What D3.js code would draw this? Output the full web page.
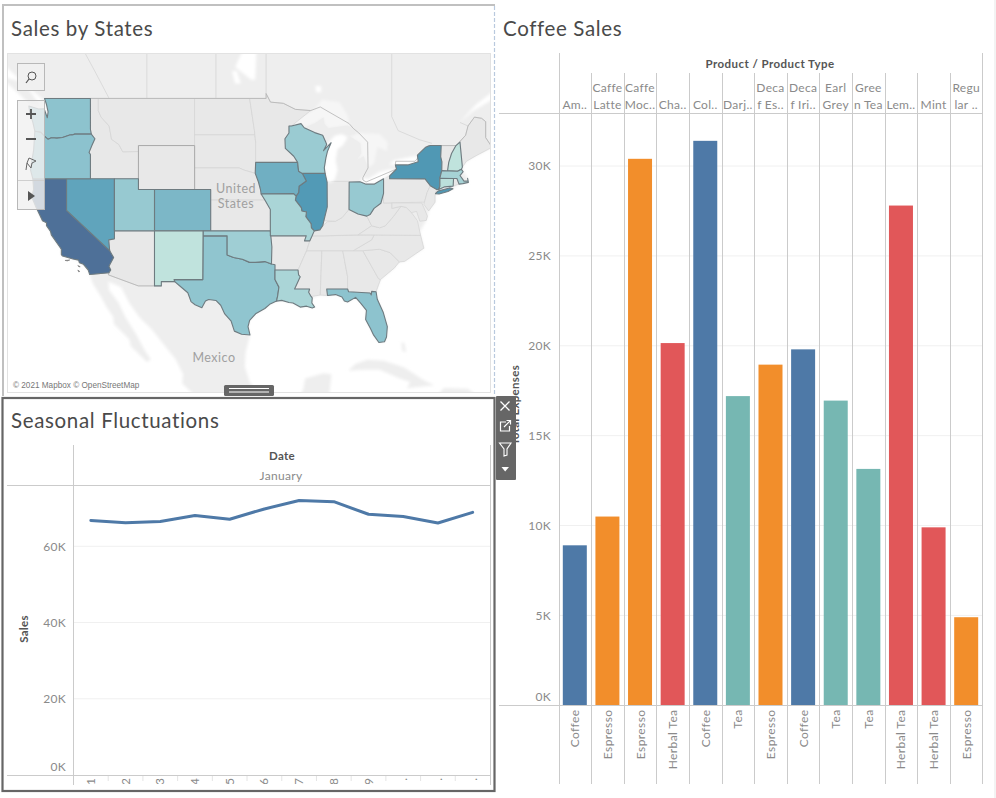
<!DOCTYPE html>
<html><head><meta charset="utf-8">
<script src="https://cdn.jsdelivr.net/npm/d3@7"></script>
<style>html,body{margin:0;padding:0;background:#fff}svg{display:block}text{font-family:Lato,"Open Sans",sans-serif}</style>
</head><body><svg id="c" width="996" height="798"></svg>
<script>
// ---- Coffee Sales ----
const products=["Amaretto","Caffe Latte","Caffe Mocha","Chamomile","Colombian","Darjeeling","Decaf Espresso","Decaf Irish Cream","Earl Grey","Green Tea","Lemon","Mint","Regular Espresso"];
const productLabels=[["Am.."],["Caffe","Latte"],["Caffe","Moc.."],["Cha.."],["Col.."],["Darj.."],["Deca","f Es.."],["Deca","f Iri.."],["Earl","Grey"],["Gree","n Tea"],["Lem.."],["Mint"],["Regu","lar .."]];
const productTypes=["Coffee","Espresso","Espresso","Herbal Tea","Coffee","Tea","Espresso","Coffee","Tea","Tea","Herbal Tea","Herbal Tea","Espresso"];
const totalExpenses=[8900,10500,30400,20150,31400,17200,18950,19800,16950,13150,27800,9900,4900];
const expenseTicks=[0,5000,10000,15000,20000,25000,30000];
const typeNames=["Coffee","Espresso","Herbal Tea","Tea"];
const typeColors=["#4e79a7","#f28e2b","#e15759","#76b7b2"];
// ---- Seasonal Fluctuations ----
const days=["1","2","3","4","5","6","7","8","9",".",".","."];
const monthlySales=[66800,66200,66500,68100,67100,69800,72000,71700,68400,67800,66100,68900];
const salesTicks=[0,20000,40000,60000];
// ---- Sales by States (value read from the shading) ----
const stateNames=["CA","NY","IL","NV","IA","CO","WA","OR","UT","TX","FL","OH","WI","OK","MO","LA","NM","NH","MA","CT"];
const stateSales=[70000,50500,49500,45000,40000,36000,30500,31000,27000,29500,30500,27000,26000,24000,20000,20000,11500,11500,21500,13500];
const colorStops=[10000,30000,50000,70000];
const colorRange=["#c4e6de","#8fc4cf","#5099b5","#4e7098"];
// rings in [longitude, latitude]
const stateRings={
WA:[[-124.7,48.38],[-123.5,48.13],[-122.8,48.15],[-122.4,47.4],[-122.3,47.9],[-122.5,48.5],[-122.75,49],[-117.03,49],[-117.03,46.42],[-116.92,46],[-118.98,46],[-119.3,45.93],[-119.6,45.92],[-120.5,45.7],[-121.2,45.65],[-121.9,45.68],[-122.3,45.55],[-122.8,45.85],[-123.2,46.15],[-123.95,46.25],[-124.1,46.7],[-124.2,47],[-124.6,47.9]],
OR:[[-123.95,46.25],[-123.2,46.15],[-122.8,45.85],[-122.3,45.55],[-121.9,45.68],[-121.2,45.65],[-120.5,45.7],[-119.6,45.92],[-119.3,45.93],[-118.98,46],[-116.92,46],[-116.47,45.6],[-116.85,45],[-117.2,44.4],[-117.03,44.2],[-117.03,42],[-124.2,42],[-124.5,42.85],[-124.1,44.6]],
CA:[[-124.2,42],[-120,42],[-120,39],[-114.63,35],[-114.14,34.3],[-114.72,33.4],[-114.5,33],[-114.72,32.72],[-117.12,32.53],[-117.3,33],[-117.9,33.6],[-118.4,33.75],[-118.5,34.03],[-119.2,34.15],[-120.5,34.45],[-120.65,34.6],[-120.65,35.15],[-121.9,36.6],[-122,36.95],[-122.5,37.5],[-122.5,37.8],[-123,38],[-123.8,39.3],[-124.35,40.3],[-124.1,41]],
NV:[[-120,42],[-114.04,42],[-114.04,36.2],[-114.75,36.1],[-114.63,35],[-120,39]],
UT:[[-114.04,42],[-111.05,42],[-111.05,41],[-109.05,41],[-109.05,37],[-114.04,37]],
CO:[[-109.05,41],[-102.05,41],[-102.05,37],[-109.05,37]],
NM:[[-109.05,37],[-103,37],[-103.04,32],[-106.62,32],[-106.53,31.78],[-108.2,31.78],[-108.2,31.33],[-109.05,31.33]],
TX:[[-106.62,32],[-103.04,32],[-103,36.5],[-100,36.5],[-100,34.56],[-99.2,34.3],[-98.1,34.13],[-97.2,33.8],[-96.5,33.8],[-95.3,33.88],[-94.48,33.64],[-94.04,33.55],[-94.04,32],[-93.55,31.2],[-93.7,30.3],[-93.85,29.7],[-94.7,29.35],[-95.3,28.9],[-96.4,28.35],[-97.2,27.6],[-97.4,26.9],[-97.15,25.96],[-98.2,26.05],[-99.1,26.4],[-99.5,27.5],[-100.3,28.3],[-100.8,29.25],[-101.4,29.77],[-102.3,29.88],[-102.7,29.7],[-103.15,28.98],[-104,29.3],[-104.5,29.65],[-104.9,30.6],[-106,31.4],[-106.53,31.78]],
OK:[[-103,37],[-94.62,37],[-94.43,35.4],[-94.48,33.64],[-95.3,33.88],[-96.5,33.8],[-97.2,33.8],[-98.1,34.13],[-99.2,34.3],[-100,34.56],[-100,36.5],[-103,36.5]],
LA:[[-94.04,33],[-91.17,33],[-91.1,32.5],[-90.9,32.3],[-91.6,31],[-89.73,31],[-89.85,30.65],[-89.55,30.2],[-89.4,30.05],[-89.45,29.5],[-89.1,29.05],[-89.4,28.95],[-90.1,29.15],[-90.9,29.05],[-91.8,29.5],[-92.3,29.55],[-93.2,29.78],[-93.85,29.7],[-93.7,30.3],[-93.55,31.2],[-94.04,32]],
MO:[[-95.77,40.58],[-91.73,40.61],[-91.42,40.38],[-91.5,40],[-90.75,39.25],[-90.7,38.95],[-90.12,38.85],[-90.2,38.4],[-89.55,37.7],[-89.5,37.3],[-89.15,37],[-89.42,36.5],[-89.7,36],[-90.37,36],[-90.15,36.5],[-94.62,36.5],[-94.62,39.1],[-95.3,40]],
IA:[[-96.45,43.5],[-91.22,43.5],[-91.1,42.7],[-90.65,42.5],[-90.15,41.8],[-91.05,41.3],[-91.1,40.7],[-91.42,40.38],[-91.73,40.61],[-95.77,40.58],[-95.85,41],[-96.1,41.7],[-96.5,42.5]],
IL:[[-90.65,42.5],[-87.8,42.5],[-87.55,41.7],[-87.53,39.35],[-87.95,38],[-88.1,37.5],[-88.45,37.1],[-89.15,37],[-89.5,37.3],[-89.55,37.7],[-90.2,38.4],[-90.12,38.85],[-90.7,38.95],[-90.75,39.25],[-91.5,40],[-91.42,40.38],[-91.1,40.7],[-91.05,41.3],[-90.15,41.8]],
WI:[[-92.3,46.7],[-92,46.7],[-90.8,46.9],[-90.4,46.55],[-89.1,46.13],[-88.1,45.9],[-87.75,45.35],[-87.6,45.1],[-88,44.55],[-87.05,45.25],[-87.5,44.5],[-87.7,43.9],[-87.9,43],[-87.8,42.5],[-90.65,42.5],[-91.1,42.7],[-91.22,43.5],[-91.7,44.05],[-92.75,44.75],[-92.8,45.6],[-92.3,46.1]],
OH:[[-84.8,41.7],[-83.45,41.73],[-82.7,41.5],[-81.7,41.5],[-80.52,42],[-80.52,40.64],[-80.85,39.7],[-81.7,39.2],[-82.2,38.6],[-82.6,38.45],[-83.7,38.65],[-84.82,39.1]],
NY:[[-79.76,42.27],[-78.9,42.9],[-79.05,43.27],[-77.5,43.27],[-76.2,43.55],[-76.3,44.15],[-75.3,44.85],[-74.7,45],[-73.34,45],[-73.4,44],[-73.25,43.55],[-73.27,42.75],[-73.5,42.05],[-73.5,41.3],[-73.65,41],[-73.9,41],[-74.7,41.36],[-75.35,41.99],[-79.76,42]],
NH:[[-72.55,42.73],[-71.3,42.7],[-70.82,42.87],[-70.7,43.07],[-71,45.3],[-71.5,45],[-72.05,44.3],[-72.4,43.5]],
MA:[[-73.5,42.05],[-73.27,42.75],[-71.3,42.7],[-70.82,42.87],[-70.6,42.65],[-71,42.3],[-70.65,41.95],[-70.5,41.78],[-70,41.8],[-70.05,42.05],[-69.95,41.67],[-70.65,41.55],[-71.12,41.5],[-71.38,42.02],[-71.8,42.02]],
CT:[[-73.5,42.05],[-71.8,42.02],[-71.85,41.32],[-72.9,41.25],[-73.65,41],[-73.5,41.3]],
FL:[[-87.6,31],[-85,31],[-84.87,30.7],[-82.2,30.57],[-82.05,30.36],[-82,30.75],[-81.45,30.71],[-81.3,29.9],[-80.55,28.45],[-80.05,26.9],[-80.15,25.75],[-80.4,25.2],[-81.1,25.12],[-81.75,25.95],[-82.15,26.7],[-82.75,27.7],[-82.65,28.7],[-83.4,29.5],[-84,30.1],[-85,29.6],[-85.4,29.7],[-85.7,30.15],[-86.5,30.4],[-87.5,30.3]]
};
const stateExtraRings={NY:[[[-74.05,40.6],[-73.75,40.85],[-72.3,41.15],[-71.87,41.07],[-72.5,40.82],[-73.6,40.58]]]};
const otherStates=[
[[-117.03,49],[-116.05,49],[-116.05,48],[-115.7,47.45],[-114.7,46.7],[-114.4,45.55],[-113.5,45.1],[-113,44.45],[-111.05,44.47],[-111.05,42],[-117.03,42],[-117.03,44.2],[-117.2,44.4],[-116.85,45],[-116.47,45.6],[-116.92,46],[-117.03,46.42]],
[[-116.05,49],[-104.05,49],[-104.05,45],[-111.05,45],[-111.05,44.47],[-113,44.45],[-113.5,45.1],[-114.4,45.55],[-114.7,46.7],[-115.7,47.45],[-116.05,48]],
[[-104.05,49],[-97.2,49],[-96.6,46.3],[-96.55,45.94],[-104.05,45.94]],
[[-104.05,45.94],[-96.55,45.94],[-96.45,45.3],[-96.45,43.5],[-96.5,42.5],[-97.9,42.8],[-98.5,43],[-104.05,43]],
[[-104.05,43],[-98.5,43],[-97.9,42.8],[-96.5,42.5],[-96.1,41.7],[-95.85,41],[-95.3,40],[-102.05,40],[-102.05,41],[-104.05,41]],
[[-102.05,40],[-95.3,40],[-94.62,39.1],[-94.62,37],[-102.05,37]],
[[-97.2,49],[-95.15,49],[-95.15,49.4],[-94.6,48.7],[-93,48.6],[-91.5,48.1],[-89.6,48],[-92,46.7],[-92.3,46.7],[-92.3,46.1],[-92.8,45.6],[-92.75,44.75],[-91.7,44.05],[-91.22,43.5],[-96.45,43.5],[-96.45,45.3],[-96.55,45.94],[-96.6,46.3]],
[[-114.04,37],[-109.05,37],[-109.05,31.33],[-111.07,31.33],[-114.8,32.5],[-114.72,32.72],[-114.5,33],[-114.72,33.4],[-114.14,34.3],[-114.63,35],[-114.75,36.1],[-114.04,36.2]],
[[-94.62,36.5],[-90.15,36.5],[-90.37,36],[-89.7,36],[-90.1,35],[-91.17,33],[-94.04,33],[-94.04,33.55],[-94.48,33.64],[-94.43,35.4]],
[[-91.17,33],[-90.1,35],[-88.2,35],[-88.4,30.35],[-89.55,30.2],[-89.85,30.65],[-89.73,31],[-91.6,31],[-90.9,32.3],[-91.1,32.5]],
[[-88.2,35],[-85.6,35],[-85,32.3],[-85,31],[-87.6,31],[-87.5,30.3],[-88.4,30.35]],
[[-85.6,35],[-83.1,35],[-81.15,32.1],[-80.9,32],[-81.45,30.71],[-82,30.75],[-82.05,30.36],[-82.2,30.57],[-84.87,30.7],[-85,31],[-85,32.3]],
[[-83.1,35],[-81,35.15],[-79.7,34.8],[-78.55,33.85],[-79.2,33.2],[-80.9,32],[-81.15,32.1]],
[[-84.3,35],[-83.1,35],[-81,35.15],[-79.7,34.8],[-78.55,33.85],[-77.9,33.9],[-76.5,34.7],[-75.5,35.25],[-75.9,36.55],[-81.7,36.59],[-82,36.1]],
[[-90.1,35],[-89.7,36],[-89.42,36.5],[-88,36.5],[-81.7,36.59],[-82,36.1],[-84.3,35],[-85.6,35],[-88.2,35]],
[[-89.42,36.5],[-89.15,37],[-88.45,37.1],[-88.1,37.5],[-87.5,37.9],[-86.5,37.95],[-85.7,38.3],[-84.82,39.1],[-83.7,38.65],[-82.6,38.45],[-82,37.5],[-83.68,36.6],[-88,36.5]],
[[-83.68,36.6],[-82,37.5],[-81,37.3],[-80.3,37.5],[-79.3,38.4],[-78.35,39.4],[-77.7,39.3],[-77.05,38.8],[-76.3,38],[-76,36.9],[-75.9,36.55],[-81.7,36.59]],
[[-82.6,38.45],[-82.2,38.6],[-81.7,39.2],[-80.85,39.7],[-80.52,40.64],[-80.52,39.72],[-79.48,39.72],[-79.48,39.2],[-78.35,39.4],[-79.3,38.4],[-80.3,37.5],[-81,37.3],[-82,37.5]],
[[-87.53,41.7],[-86.8,41.76],[-84.8,41.76],[-84.82,39.1],[-85.7,38.3],[-86.5,37.95],[-87.95,38],[-87.53,39.35]],
[[-80.52,42],[-79.76,42.27],[-79.76,42],[-75.35,41.99],[-74.7,41.36],[-75.1,40.7],[-75.4,39.8],[-80.52,39.72]],
[[-74.7,41.36],[-73.9,41],[-74.1,40.5],[-74.1,39.8],[-74.9,38.95],[-75.5,39.6],[-75.1,40.7]],
[[-79.48,39.72],[-75.75,39.72],[-75.05,38.45],[-75.2,38.03],[-76,37.95],[-76.4,38.9],[-77.05,38.8],[-77.7,39.3],[-78.35,39.4],[-79.48,39.2]],
[[-73.34,45],[-71.5,45],[-72.05,44.3],[-72.4,43.5],[-72.55,42.73],[-73.27,42.75],[-73.25,43.55],[-73.4,44]],
[[-71,45.3],[-70.3,45.9],[-70,46.7],[-69.2,47.45],[-68.3,47.35],[-67.8,47.07],[-67.8,45.7],[-67,44.85],[-69,44.1],[-70.2,43.6],[-70.7,43.07]],
[[-71.8,42.02],[-71.38,42.02],[-71.12,41.5],[-71.85,41.32]]
];
const paleStates=[
[[-86.6,41.76],[-84.8,41.7],[-83.45,41.73],[-83.1,42.1],[-82.45,43],[-83,44.05],[-83.9,43.7],[-83.3,44.3],[-83.4,45.2],[-84.7,45.8],[-85,45.7],[-85.6,45],[-86.25,44.7],[-86.5,43.7],[-86.25,42.8]],
[[-90.4,46.55],[-89,46.95],[-88,47.45],[-87.9,46.9],[-87.4,46.5],[-85,46.75],[-84.3,46.5],[-84,46],[-84.7,45.95],[-86.6,45.85],[-87.6,45.1],[-87.75,45.35],[-88.1,45.9],[-89.1,46.13]]
];
const darkerStates=[[[-111.05,45],[-104.05,45],[-104.05,41],[-111.05,41]]];
const landRings=[
[[-135,60],[-135,54],[-128,53],[-127.5,51.5],[-125.5,50.3],[-124,49.5],[-123.1,49],[-122.5,48.5],[-122.4,47.4],[-122.8,48.15],[-123.5,48.13],[-124.7,48.38],[-124.6,47.9],[-124.2,47],[-124.1,46.7],[-123.95,46.25],[-124.1,44.6],[-124.5,42.85],[-124.2,42],[-124.1,41],[-124.35,40.3],[-123.8,39.3],[-123,38],[-122.5,37.8],[-122.5,37.5],[-122,36.95],[-121.9,36.6],[-120.65,35.15],[-120.65,34.6],[-120.5,34.45],[-119.2,34.15],[-118.5,34.03],[-118.4,33.75],[-117.9,33.6],[-117.3,33],[-117.12,32.53],[-116.7,31.5],[-115.8,30.3],[-115,29],[-114.2,28],[-114.1,27.2],[-112.2,25.5],[-112,24.7],[-110,22.9],[-109.5,23.2],[-110.3,24.3],[-111.3,26],[-112.7,28],[-113.5,29.5],[-114.7,30.9],[-114.8,31.8],[-113.2,31.2],[-112.2,29.5],[-110.9,27.9],[-109.4,26.6],[-108,25],[-106.4,23.2],[-105.5,21.5],[-105.6,20.4],[-104,19],[-102,17.5],[-95,15],[-90,15],[-88,17],[-87.3,19],[-87,21.5],[-88,21.6],[-90.3,21],[-90.5,19.8],[-91,18.7],[-92,18.6],[-94,18.15],[-95,18.5],[-96.1,19.2],[-97.2,20.6],[-97.8,22.4],[-97.7,24],[-97.15,25.96],[-97.4,26.9],[-97.2,27.6],[-96.4,28.35],[-95.3,28.9],[-94.7,29.35],[-93.85,29.7],[-93.2,29.78],[-92.3,29.55],[-91.8,29.5],[-90.9,29.05],[-90.1,29.15],[-89.4,28.95],[-89.1,29.05],[-89.45,29.5],[-89.4,30.05],[-88.4,30.35],[-87.5,30.3],[-86.5,30.4],[-85.7,30.15],[-85.4,29.7],[-85,29.6],[-84,30.1],[-83.4,29.5],[-82.65,28.7],[-82.75,27.7],[-82.15,26.7],[-81.75,25.95],[-81.1,25.12],[-80.4,25.2],[-80.15,25.75],[-80.05,26.9],[-80.55,28.45],[-81.3,29.9],[-81.45,30.71],[-80.9,32],[-79.2,33.2],[-78.55,33.85],[-77.9,33.9],[-76.5,34.7],[-75.5,35.25],[-75.9,36.55],[-76,36.9],[-75.2,38.03],[-75.05,38.45],[-74.9,38.95],[-74.1,39.8],[-74.1,40.5],[-71.87,41.07],[-71.12,41.5],[-70.65,41.55],[-69.95,41.67],[-70.05,42.05],[-70.6,42.65],[-70.7,43.07],[-70.2,43.6],[-69,44.1],[-67,44.85],[-66,45.2],[-64.5,45.5],[-66,44],[-64,44.5],[-61,45.5],[-60,46.5],[-62,46.2],[-65,47],[-65,48.2],[-66.5,49.1],[-69.5,47.9],[-71.2,46.9],[-70.5,47.4],[-69,48.5],[-67,49.5],[-63,50.2],[-58,51],[-58,60]],
[[-128.4,50.8],[-125.3,50.3],[-123.3,48.4],[-124.7,48.6],[-127,50]],
[[-84.9,21.9],[-84,22.7],[-82.5,23.15],[-80.5,23.05],[-78,22.3],[-75.5,20.8],[-74.2,20.2],[-77.6,19.85],[-77.2,20.6],[-78.5,21],[-81,22],[-83,22]],
[[-74.4,18.4],[-73,19.9],[-70,19.8],[-68.4,18.6],[-71,18],[-72,18.1]],
[[-78.3,25.2],[-77.9,25],[-77.7,24],[-78.2,24.2]]
];
const paleLakes=[
[[-92.1,46.75],[-90.9,46.95],[-90.4,46.6],[-89,46.95],[-88,47.45],[-87.9,46.9],[-87.4,46.5],[-86,46.65],[-85,46.75],[-84.6,46.5],[-84.8,47],[-85,47.6],[-86,48.7],[-88.2,48.9],[-89.3,48],[-90.5,47.6]],
[[-84.7,45.8],[-83.4,45.2],[-83.3,44.3],[-83.9,43.7],[-83,44.05],[-82.45,43],[-81.7,43.4],[-81.3,44.9],[-80.1,44.5],[-80,45.3],[-81,46],[-83.5,46.1]]
];
const whiteLakes=[
[[-87.8,42.5],[-87.55,41.7],[-87.2,41.65],[-86.6,41.9],[-86.25,42.8],[-86.5,43.7],[-86.25,44.7],[-85.6,45],[-85,45.7],[-85.7,46],[-86.6,45.85],[-87.6,45.1],[-88,44.55],[-87.5,44.5],[-87.9,43]],
[[-83.45,41.73],[-82.7,41.5],[-81.7,41.5],[-80.52,42],[-78.9,42.9],[-79.8,42.85],[-81,42.65],[-82.4,42],[-83.1,42.1]],
[[-79.8,43.3],[-79.05,43.27],[-77.5,43.27],[-76.2,43.55],[-76.4,44.1],[-77.5,43.95],[-79.2,43.7]],
[[-99,51.5],[-97.5,53.5],[-96.3,53.5],[-96.5,50.5],[-97,50.5]],
[[-99,50.2],[-98.3,50.2],[-98.8,51.2],[-99.4,51.2]],
[[-89,50],[-88.3,50],[-88.3,49.5],[-88.9,49.5]]
];
const coastIslands=[[[-120.2,34],[-119.6,34.05],[-119.9,33.95]],[[-118.6,33.48],[-118.3,33.35],[-118.45,33.33]],[[-118.6,33],[-118.35,32.85],[-118.5,32.82]]];
const borderLines=[
[[-122.75,49],[-95.15,49],[-95.15,49.4],[-94.6,48.7],[-93,48.6],[-91.5,48.1],[-89.6,48],[-88.4,48.3],[-84.8,46.9],[-84.3,46.5],[-83.6,46.1],[-82.5,45.3],[-82.45,43],[-83.1,42.1],[-83.1,41.9],[-82.7,41.7],[-78.9,42.9],[-79.05,43.3],[-79,43.6],[-76.6,43.6],[-75,45],[-74.7,45],[-71.5,45],[-70.3,45.9],[-70,46.7],[-69.2,47.45],[-68.3,47.35],[-67.8,47.07],[-67.8,45.7],[-67,44.85]],
[[-117.12,32.53],[-114.72,32.72],[-114.8,32.5],[-111.07,31.33],[-108.2,31.33],[-108.2,31.78],[-106.53,31.78]]
];
const provinceLines=[[[-118,52.9],[-116.5,51.2],[-114.7,49]],[[-110,52.9],[-110,49]],[[-101.4,52.9],[-101.4,49]],[[-95.15,52.9],[-95.15,49.4]],[[-79.5,52.9],[-79.5,47.5],[-78.7,46.3],[-76,45.5],[-74.5,45.2]],[[-71,47],[-70,46.7]]];
const mapW=484;
// ---- helpers ----
const svg=d3.select("#c");
const defs=svg.append("defs");
defs.append("clipPath").attr("id","mapClip").append("rect").attr("x",7).attr("y",53).attr("width",mapW).attr("height",340);
defs.append("clipPath").attr("id","lineClip").append("rect").attr("x",7).attr("y",440).attr("width",484).attr("height",344);
defs.append("filter").attr("id","soft").attr("x","-5%").attr("y","-5%").attr("width","110%").attr("height","110%").append("feGaussianBlur").attr("stdDeviation",1.6);
const axisGrey="#cbcbcb", gridGrey="#f0f0f0", tickText="#8a8a8a", titleText="#4a4a4a", headText="#555";
const title=(x,y,t)=>svg.append("text").attr("x",x).attr("y",y).attr("font-size",20.5).attr("letter-spacing",".65").attr("fill",titleText).text(t);
const hline=(g,x1,x2,y,c,w=1)=>g.append("line").attr("x1",x1).attr("x2",x2).attr("y1",y).attr("y2",y).attr("stroke",c).attr("stroke-width",w);
const vline=(g,x,y1,y2,c,w=1)=>g.append("line").attr("x1",x).attr("x2",x).attr("y1",y1).attr("y2",y2).attr("stroke",c).attr("stroke-width",w);

// ---- map ----
const projection=d3.geoMercator().scale(460).translate([1030,551]);
const linePath=r=>d3.line()(r.map(p=>projection(p)));
const ringPath=r=>linePath(r)+"Z";
const color=d3.scaleLinear().domain(colorStops).range(colorRange);
const map=svg.append("g").attr("clip-path","url(#mapClip)");
const soft=map.append("g").attr("filter","url(#soft)");
soft.selectAll(".land").data(landRings).join("path").attr("d",ringPath).attr("fill","#eeeeee");
map.selectAll(".pale").data(paleStates).join("path").attr("d",ringPath).attr("fill","#ededed");
soft.append("g").selectAll("path").data(paleLakes).join("path").attr("d",ringPath).attr("fill","#f6f6f6");
map.selectAll(".other").data(otherStates).join("path").attr("d",ringPath).attr("fill","#e8e8e8").attr("stroke","#d4d4d4").attr("stroke-width",.7);
map.selectAll(".wy").data(darkerStates).join("path").attr("d",ringPath).attr("fill","#e8e8e8").attr("stroke","#a8a8a8").attr("stroke-width",1);
map.append("g").attr("filter","url(#soft)").selectAll("path").data(whiteLakes).join("path").attr("d",ringPath).attr("fill","#ffffff");
map.selectAll(".prov").data(provinceLines).join("path").attr("d",linePath).attr("fill","none").attr("stroke","#d6d6d6").attr("stroke-width",.8);
map.selectAll(".bord").data(borderLines).join("path").attr("d",linePath).attr("fill","none").attr("stroke","#b4b4b4").attr("stroke-width",.8);
const statesG=map.append("g");
stateNames.forEach((n,i)=>{
  [stateRings[n],...(stateExtraRings[n]||[])].forEach(r=>{
    statesG.append("path").attr("d",ringPath(r)).attr("fill",color(stateSales[i])).attr("stroke","#6e7b80").attr("stroke-width",1.1).attr("stroke-linejoin","round");
  });
});
map.selectAll(".isl").data(coastIslands).join("path").attr("d",ringPath).attr("fill","#777").attr("stroke","#777").attr("stroke-width",.6);
const mapLabel=(x,y,t,s,c)=>map.append("text").attr("x",x).attr("y",y).attr("text-anchor","middle").attr("font-size",s).attr("fill",c).text(t);
mapLabel(236,193,"United",12.5,"#a0a0a0").attr("letter-spacing",".5");
mapLabel(236,207.5,"States",12.5,"#a0a0a0").attr("letter-spacing",".5");
mapLabel(214,362,"Mexico",12.5,"#a0a0a0").attr("letter-spacing",".5");
map.append("rect").attr("x",10).attr("y",378).attr("width",130).attr("height",13).attr("fill","#fff").attr("opacity",.55);
map.append("text").attr("x",13).attr("y",388).attr("font-size",8.2).attr("fill","#777").style("font-family","'Liberation Sans',sans-serif").text("© 2021 Mapbox © OpenStreetMap");
svg.append("rect").attr("x",7.5).attr("y",53.5).attr("width",483).attr("height",339).attr("fill","none").attr("stroke","#e2e2e2");
// map controls
const ctl=svg.append("g");
ctl.append("rect").attr("x",17.5).attr("y",63.5).attr("width",27).attr("height",27).attr("fill","#f0f0f0").attr("fill-opacity",.85).attr("stroke","#b8b8b8");
ctl.append("rect").attr("x",17.5).attr("y",100.5).attr("width",27).attr("height",109).attr("fill","#f0f0f0").attr("fill-opacity",.82).attr("stroke","#b8b8b8");
ctl.append("circle").attr("cx",32).attr("cy",76).attr("r",4).attr("fill","none").attr("stroke","#555").attr("stroke-width",1);
ctl.append("path").attr("d","M29 79L26 83").attr("stroke","#555").attr("stroke-width",1.2);
ctl.append("path").attr("d","M26 114H36M31 109V119M26 139H36").attr("stroke","#555").attr("stroke-width",1.8);
ctl.append("path").attr("d","M29 158L36 161L32 163L31 168L27 163L26 170M27 163L29 158").attr("fill","none").attr("stroke","#666").attr("stroke-width",1);
hline(ctl,18,44,180.5,"#cfcfcf");
ctl.append("path").attr("d","M28 191L35 196L28 201Z").attr("fill","#555");

// ---- line chart ----
const lx=d3.scaleBand().domain(d3.range(days.length)).range([73.5,490]);
const ly=d3.scaleLinear().domain([0,60000]).range([775,546.3]);
const lineG=svg.append("g");
salesTicks.filter(d=>d>0).forEach(d=>hline(lineG,74,490,ly(d),gridGrey));
hline(lineG,7,490,485.5,axisGrey);
hline(lineG,7,490,775.5,axisGrey);
vline(lineG,73.5,445,785,axisGrey);
vline(lineG,490.5,445,785,axisGrey);
days.forEach((d,i)=>{ if(i>0) vline(lineG,lx(i),776,781,"#e4e4e4"); });
const lAxis=lineG.append("g").attr("transform","translate(66,0)").call(d3.axisLeft(ly).tickValues(salesTicks).tickSize(0).tickPadding(0).tickFormat(d=>d/1000+"K"));
lAxis.select(".domain").remove();
lAxis.selectAll("text").attr("font-size",12).attr("fill",tickText).style("font-family","Lato").attr("dy",".32em").attr("letter-spacing",".3");
lAxis.selectAll(".tick").filter(d=>d===0).select("text").attr("dy","-.4em");
const dayLab=lineG.append("g").attr("clip-path","url(#lineClip)");
days.forEach((d,i)=>{
  const cx=lx(i)+lx.bandwidth()/2;
  dayLab.append("text").attr("transform",`translate(${cx+4},778) rotate(-90)`).attr("text-anchor","end").attr("font-size",12).attr("fill",tickText).text(d);
});
lineG.append("text").attr("transform","translate(27.5,629) rotate(-90)").attr("text-anchor","middle").attr("font-size",11.5).attr("font-weight",700).attr("fill",headText).attr("letter-spacing",".3").text("Sales");
lineG.append("text").attr("x",282).attr("y",460).attr("text-anchor","middle").attr("font-size",11.5).attr("font-weight",700).attr("fill",headText).attr("letter-spacing",".3").text("Date");
lineG.append("text").attr("x",281).attr("y",480).attr("text-anchor","middle").attr("font-size",12).attr("fill",tickText).attr("letter-spacing",".3").text("January");
lineG.append("path").attr("d",d3.line().x((d,i)=>lx(i)+lx.bandwidth()/2).y(d=>ly(d))(monthlySales)).attr("fill","none").attr("stroke","#4e79a7").attr("stroke-width",3).attr("stroke-linecap","round").attr("stroke-linejoin","round");

// ---- bar chart ----
const bx=d3.scaleBand().domain(products).range([558.5,982.5]).paddingInner(0).paddingOuter(0);
const by=d3.scaleLinear().domain([0,30000]).range([705.3,166]);
const typeColor=d3.scaleOrdinal().domain(typeNames).range(typeColors);
const barG=svg.append("g");
expenseTicks.filter(d=>d>0).forEach(d=>hline(barG,559,982,by(d),gridGrey));
hline(barG,499,982,113.5,axisGrey);
barG.append("text").attr("transform","translate(519,405) rotate(-90)").attr("text-anchor","middle").attr("font-size",11.5).attr("font-weight",700).attr("fill",headText).attr("letter-spacing",".3").text("Total Expenses");
products.forEach((p,i)=>{ const b=totalExpenses[i];
  barG.append("rect").attr("x",bx(p)+bx.bandwidth()/2-12).attr("width",24).attr("y",by(b)).attr("height",by(0)-by(b)).attr("fill",typeColor(productTypes[i]));
});
hline(barG,499,982,705.5,axisGrey);
products.forEach((p,i)=>{ vline(barG,Math.round(bx(p))+.5,i===0?53:73,784,axisGrey);
  const cx=bx(p)+bx.bandwidth()/2;
  const lines=productLabels[i];
  lines.forEach((t,j)=>barG.append("text").attr("x",cx).attr("y",109-(lines.length-1-j)*17).attr("text-anchor","middle").attr("font-size",12).attr("letter-spacing",".3").attr("fill",tickText).text(t));
  barG.append("text").attr("transform",`translate(${cx+4.5},709.5) rotate(-90)`).attr("text-anchor","end").attr("font-size",12).attr("letter-spacing",".4").attr("fill",tickText).text(productTypes[i]);
});
vline(barG,982.5,53,784,axisGrey);
const bAxis=barG.append("g").attr("transform","translate(551,0)").call(d3.axisLeft(by).tickValues(expenseTicks).tickSize(0).tickPadding(0).tickFormat(d=>d/1000+"K"));
bAxis.select(".domain").remove();
bAxis.selectAll("text").attr("font-size",12).attr("fill",tickText).style("font-family","Lato").attr("dy",".32em").attr("letter-spacing",".3");
bAxis.selectAll(".tick").filter(d=>d===0).select("text").attr("dy","-.4em");
barG.append("text").attr("x",770).attr("y",67.5).attr("text-anchor","middle").attr("font-size",11.5).attr("font-weight",700).attr("fill",headText).attr("letter-spacing",".45").text("Product  /  Product Type");

// ---- titles & frames ----
title(11,36,"Sales by States");
title(11,428,"Seasonal Fluctuations");
title(503,36,"Coffee Sales");
const frame=svg.append("g");
frame.append("path").attr("d","M495 5H3V396").attr("fill","none").attr("stroke","#c0c0c0").attr("stroke-width",2);
vline(frame,494.5,6,396,"#b9c9de",1.2).attr("stroke-dasharray","4 2");
vline(frame,995,0,798,"#f3f3f3",2);
frame.append("rect").attr("x",2.5).attr("y",398).attr("width",492).attr("height",393).attr("fill","none").attr("stroke","#666").attr("stroke-width",2.2);
frame.append("rect").attr("x",224).attr("y",385).attr("width",50).attr("height",11).attr("rx",1.5).attr("fill","#666");
frame.append("path").attr("d","M229 388.5H269M229 392H269").attr("stroke","#fff").attr("stroke-width",1);
// floating toolbar
const tb=svg.append("g");
tb.append("rect").attr("x",496).attr("y",396).attr("width",20).attr("height",84).attr("rx",1).attr("fill","#666");
tb.append("path").attr("d","M500.5 401.5L509.5 410.5M509.5 401.5L500.5 410.5").attr("stroke","#fff").attr("stroke-width",1.3);
tb.append("path").attr("d","M506 422H500.5V431H509.5V426M504 427L510.5 420.5M506.5 420.5H510.5V424.5").attr("fill","none").attr("stroke","#fff").attr("stroke-width",1.2);
tb.append("path").attr("d","M499.5 443H511L507 449V455L504 456V449Z").attr("fill","none").attr("stroke","#fff").attr("stroke-width",1.1);
tb.append("path").attr("d","M501.5 467H509L505.2 471.5Z").attr("fill","#fff");
</script></body></html>
